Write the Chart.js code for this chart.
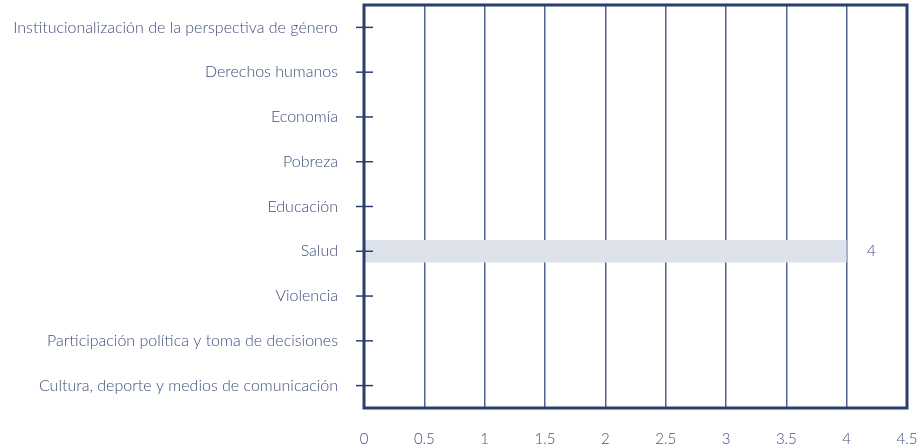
<!DOCTYPE html>
<html>
<head>
<meta charset="utf-8">
<script src="https://cdn.jsdelivr.net/npm/chart.js@4/dist/chart.umd.min.js"></script>
<style>
html,body{margin:0;padding:0;background:#fff;}
#wrap{width:919px;height:447px;position:relative;}
</style>
</head>
<body>
<div id="wrap"><canvas id="c"></canvas></div>
<script>
const categories = [
  "Institucionalización de la perspectiva de género",
  "Derechos humanos",
  "Economía",
  "Pobreza",
  "Educación",
  "Salud",
  "Violencia",
  "Participación política y toma de decisiones",
  "Cultura, deporte y medios de comunicación"
];
const values = [null, null, null, null, null, 4, null, null, null];
const xTickValues = [0, 0.5, 1, 1.5, 2, 2.5, 3, 3.5, 4, 4.5];

const NAVY = '#2b3f6e';
const GRID = '#506391';
const TEXT = '#3f4f7c';

const frame = {
  id: 'frame',
  afterDatasetsDraw(chart) {
    const {ctx, chartArea: a} = chart;
    const y = chart.scales.y;
    ctx.save();
    ctx.strokeStyle = NAVY;
    ctx.lineWidth = 1.5;
    y.ticks.forEach((t, i) => {
      const py = y.getPixelForTick(i);
      ctx.beginPath();
      ctx.moveTo(a.left - 8, py);
      ctx.lineTo(a.left + 9, py);
      ctx.stroke();
    });
    ctx.lineWidth = 3;
    ctx.strokeRect(a.left, a.top, a.right - a.left, a.bottom - a.top);
    ctx.fillStyle = TEXT;
    ctx.font = '300 16px Lato';
    ctx.textBaseline = 'middle';
    ctx.textAlign = 'left';
    const meta = chart.getDatasetMeta(0);
    meta.data.forEach((bar, i) => {
      const v = values[i];
      if (v === null || v === undefined) return;
      ctx.fillText(String(v), bar.x + 20, bar.y);
    });
    ctx.restore();
  }
};

new Chart(document.getElementById('c'), {
  type: 'bar',
  data: {
    labels: categories,
    datasets: [{
      data: values,
      backgroundColor: '#dde2ea',
      borderWidth: 0,
      barPercentage: 0.5,
      categoryPercentage: 1.0
    }]
  },
  options: {
    indexAxis: 'y',
    responsive: true,
    maintainAspectRatio: false,
    animation: false,
    layout: { padding: { top: 5, left: 4, right: 0, bottom: 0 } },
    plugins: { legend: { display: false }, tooltip: { enabled: false } },
    scales: {
      x: {
        type: 'linear',
        min: 0,
        max: 4.5,
        afterBuildTicks(scale) { scale.ticks = xTickValues.map(v => ({ value: v })); },
        afterFit(s) { s.height = 39; s.paddingRight = 12; s.paddingLeft = 0; },
        ticks: { color: TEXT, font: { family: 'Lato', size: 15, weight: 300 }, padding: 22, maxRotation: 0, callback: v => String(v) },
        grid: { color: GRID, lineWidth: 1.5, drawTicks: false, tickLength: 0 },
        border: { display: false }
      },
      y: {
        afterFit(s) { s.paddingTop = 0; s.paddingBottom = 0; s.width = 360; },
        ticks: { color: TEXT, font: { family: 'Lato', size: 16, weight: 300 }, padding: 26 },
        grid: { display: false, drawTicks: false },
        border: { display: false }
      }
    }
  },
  plugins: [frame]
});
</script>
</body>
</html>
